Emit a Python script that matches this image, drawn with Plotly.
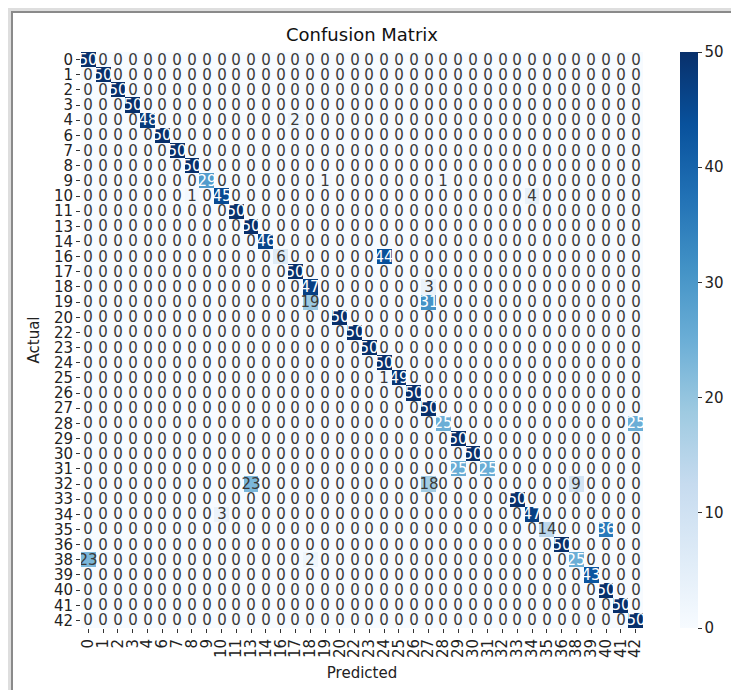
import numpy as np
import plotly.graph_objects as go

labels = [0, 1, 2, 3, 4, 6, 7, 8, 9, 10, 11, 13, 14, 16, 17, 18, 19, 20, 22, 23,
          24, 25, 26, 27, 28, 29, 30, 31, 32, 33, 34, 35, 36, 38, 39, 40, 41, 42]

diag_values = [50, 50, 50, 50, 48, 50, 50, 50, 29, 45, 50, 50, 46, 6, 50, 47, 0, 50, 50, 50,
               50, 49, 50, 50, 25, 50, 50, 25, 0, 50, 47, 14, 50, 25, 43, 50, 50, 50]

# (actual label, predicted label, count)
off_actual = [4, 9, 9, 10, 10, 16, 18, 19, 19, 25, 28, 31, 32, 32, 32, 34, 35, 38, 38]
off_pred = [17, 19, 28, 8, 34, 24, 27, 18, 27, 24, 42, 29, 13, 27, 38, 10, 40, 0, 18]
off_count = [2, 1, 1, 1, 4, 44, 3, 19, 31, 1, 25, 25, 23, 18, 9, 3, 36, 23, 2]

n = len(labels)
idx = {lab: i for i, lab in enumerate(labels)}
cm = np.zeros((n, n), dtype=int)
for i, v in enumerate(diag_values):
    cm[i, i] = v
for a, p, c in zip(off_actual, off_pred, off_count):
    cm[idx[a], idx[p]] = c

cats = [str(l) for l in labels]
dark_text = [[str(v) if v < 24 else "" for v in row] for row in cm]
light_text = [[str(v) if v >= 24 else "" for v in row] for row in cm]

# page body has an 8px margin: figure pixel = reference pixel - 8
OFF = 8
W, H = 723, 682
L, T = 81 - OFF, 52 - OFF
R = W - (643 - OFF)
B = H - (628 - OFF)
PW, PH = W - L - R, H - T - B


def px_x(p):
    return (p - OFF - L) / PW


def px_y(p):
    return 1 - (p - OFF - T) / PH


FONT = "DejaVu Sans"

fig = go.Figure()
fig.add_trace(go.Heatmap(
    z=cm, x=cats, y=cats, colorscale="Blues", zmin=0, zmax=50,
    text=dark_text, texttemplate="%{text}",
    textfont=dict(family=FONT, size=15, color="#3a3a3a"),
    hoverinfo="skip",
    colorbar=dict(
        x=px_x(680), xanchor="left", xref="paper", xpad=0, ypad=0,
        thickness=18, len=1, lenmode="fraction", y=0.5, yanchor="middle",
        outlinewidth=0, ticks="outside", ticklen=4, tickcolor="#333",
        tickvals=[0, 10, 20, 30, 40, 50],
        tickfont=dict(family=FONT, size=15, color="#222"),
    ),
))
fig.add_trace(go.Heatmap(
    z=cm, x=cats, y=cats,
    colorscale=[[0, "rgba(0,0,0,0)"], [1, "rgba(0,0,0,0)"]],
    showscale=False, text=light_text, texttemplate="%{text}",
    textfont=dict(family=FONT, size=15, color="white"),
    hoverinfo="skip",
))

fig.add_shape(type="rect", xref="paper", yref="paper",
              x0=px_x(12), x1=px_x(780), y0=px_y(12), y1=px_y(691),
              fillcolor="white", line=dict(color="#8a8a8a", width=2), layer="below")

fig.update_layout(
    width=W, height=H,
    margin=dict(l=L, r=R, t=T, b=B, autoexpand=False),
    paper_bgcolor="#dedede", plot_bgcolor="white",
    title=dict(text="Confusion Matrix", x=0.5, xref="paper", xanchor="center",
               y=1 - (35 - OFF) / H, yanchor="middle",
               font=dict(family=FONT, size=18, color="#111")),
    font=dict(family=FONT, color="#222"),
    xaxis=dict(type="category", tickmode="array", tickvals=cats, ticktext=cats,
               tickangle=-90, ticks="outside", ticklen=4,
               tickcolor="#333", showgrid=False, zeroline=False,
               tickfont=dict(family=FONT, size=15, color="#222"),
               title=dict(text="Predicted", standoff=10,
                          font=dict(family=FONT, size=15, color="#222"))),
    yaxis=dict(type="category", tickmode="array", tickvals=cats, ticktext=cats,
               autorange="reversed", ticks="outside", ticklen=4,
               tickcolor="#333", showgrid=False, zeroline=False,
               tickfont=dict(family=FONT, size=15, color="#222"),
               title=dict(text="Actual", standoff=10,
                          font=dict(family=FONT, size=15, color="#222"))),
)

fig.write_html("out.html")
